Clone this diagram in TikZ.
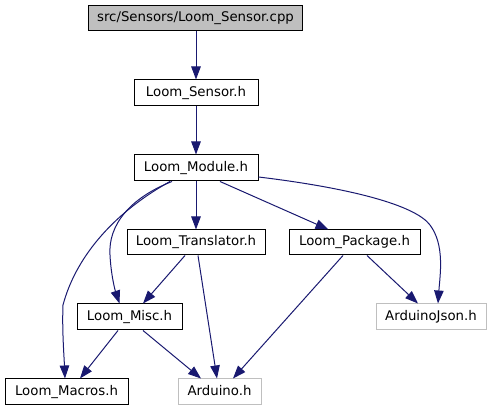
\documentclass[tikz,border=0pt]{standalone}
\usepackage{fontspec}
\setmainfont{DejaVu Sans}
\usetikzlibrary{arrows.meta}
\definecolor{edgeblue}{HTML}{191970}
\definecolor{lgray}{HTML}{BFBFBF}
\begin{document}
\begin{tikzpicture}[x=1pt,y=-1pt,
  box/.style={draw=black,line width=1pt,fill=white,inner sep=0pt,
    font=\fontsize{13.3}{16}\selectfont,text height=9.8pt,text depth=2.8pt},
  extbox/.style={box,draw=lgray},
  edge/.style={draw=edgeblue,line width=1pt,-{Triangle[length=13pt,width=9.5pt]}}]
\useasboundingbox (0,0) rectangle (491,411);
\node[box,fill=lgray,minimum width=214pt,minimum height=25pt] (cpp) at (195.5,18.5) {src/Sensors/Loom\_Sensor.cpp};
\node[box,minimum width=124pt,minimum height=26pt] (sensor) at (196,93) {Loom\_Sensor.h};
\node[box,minimum width=124pt,minimum height=26pt] (module) at (196,168) {Loom\_Module.h};
\node[box,minimum width=138pt,minimum height=25pt] (trans) at (196,242.5) {Loom\_Translator.h};
\node[box,minimum width=131pt,minimum height=25pt] (pack) at (354.5,242.5) {Loom\_Package.h};
\node[box,minimum width=105pt,minimum height=26pt] (misc) at (129.5,317) {Loom\_Misc.h};
\node[extbox,minimum width=110pt,minimum height=26pt] (ajson) at (431,317) {ArduinoJson.h};
\node[box,minimum width=123pt,minimum height=26pt] (macros) at (66.5,392) {Loom\_Macros.h};
\node[extbox,minimum width=83pt,minimum height=26pt] (ard) at (219.5,392) {Arduino.h};

\draw[edge] (sensor.north |- cpp.south) -- (sensor.north);
\draw[edge] (sensor) -- (module);
\draw[edge] (module) -- (trans);
\draw[edge] ([xshift=24pt]module.south) -- ([xshift=-26pt]pack.north);
\draw[edge] ([yshift=-9pt]module.east) .. controls (350,188) and (415,205) .. (430,225)
  .. controls (445,245) and (440,275) .. ([xshift=7pt]ajson.north);
\draw[edge] ([xshift=-24pt]module.south) .. controls (130,198) and (108,225) .. (110,255)
  .. controls (111,275) and (115,290) .. ([xshift=-10pt]misc.north);
\draw[edge] ([xshift=-26pt]module.south) .. controls (110,215) and (75,260) .. (63,305)
  .. controls (62,330) and (64,355) .. ([xshift=-1.5pt]macros.north);
\draw[edge] ([xshift=-11pt]trans.south) -- ([xshift=13.5pt]misc.north);
\draw[edge] ([xshift=2pt]trans.south) -- ([xshift=-2.5pt]ard.north);
\draw[edge] ([xshift=12.5pt]pack.south) -- ([xshift=-13pt]ajson.north);
\draw[edge] ([xshift=-11.5pt]pack.south) -- ([xshift=13.5pt]ard.north);
\draw[edge] ([xshift=13.5pt]misc.south) -- ([xshift=-18.5pt]ard.north);
\draw[edge] ([xshift=-11.5pt]misc.south) -- ([xshift=13.5pt]macros.north);
\end{tikzpicture}
\end{document}
